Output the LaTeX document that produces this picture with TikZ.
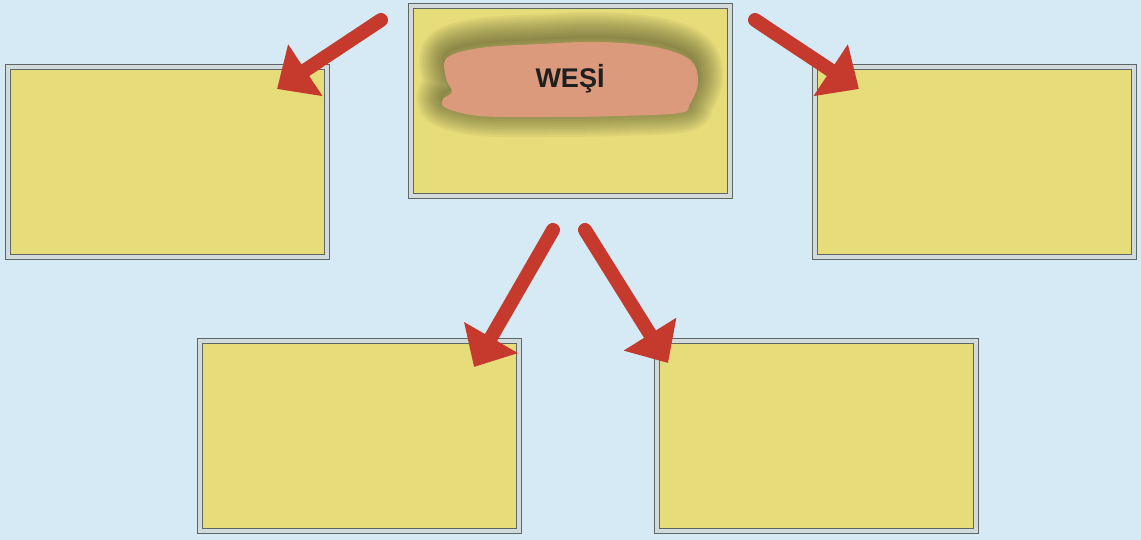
\documentclass[tikz,border=0pt]{standalone}
\usepackage{fontspec}
\setmainfont{Liberation Sans}
\usetikzlibrary{arrows.meta}
\definecolor{bgblue}{HTML}{D5EAF4}
\definecolor{boardyellow}{HTML}{E6DC7A}
\definecolor{framedark}{HTML}{5E6666}
\definecolor{framelight}{HTML}{D3DADB}
\definecolor{arrowred}{HTML}{C53A2D}
\definecolor{blobsalmon}{HTML}{DB9A7C}
\definecolor{glowcol}{HTML}{3A3A20}
\tikzset{
  board/.style={draw=framedark, line width=1pt, double=framelight, double distance=4pt,
    fill=boardyellow, minimum width=319pt, minimum height=190pt, inner sep=0pt},
  redarrow/.style={arrowred, line width=14pt, line cap=round, -{Triangle[width=60pt,length=34pt]}}
}
\def\blobpath{plot[smooth cycle, tension=0.6] coordinates {(447,58) (480,48) (540,44) (600,42) (655,47) (690,60) (698,82) (690,104) (680,113) (620,116) (550,117) (480,116) (446,108) (443,99) (452,92) (446,78)}}
\begin{document}
\begin{tikzpicture}[x=1pt,y=-1pt]
\useasboundingbox (0,0) rectangle (1141,540);
\fill[bgblue] (0,0) rectangle (1141,540);
% boards
\node[board] (top) at (570,101) {};
\node[board] (left) at (167.5,162) {};
\node[board] (right) at (974.5,162) {};
\node[board] (bl) at (359.5,435.5) {};
\node[board] (br) at (816.5,435.5) {};
% soft glow behind the blob
\begin{scope}[shift={(0,-5)}]
\foreach \w in {50,46,...,2}
  \draw[glowcol, opacity=0.05, line width=\w pt, line join=round] \blobpath;
\end{scope}
\fill[blobsalmon] \blobpath;
\node[font=\bfseries\fontsize{27}{30}\selectfont, text=black!88, inner sep=0pt] (label) at (570,79) {WEŞİ};
% arrow coordinates
\coordinate (a1s) at (381,20);
\coordinate (a1e) at (277,89);
\coordinate (a2s) at (755,20);
\coordinate (a2e) at (859,89);
\coordinate (a3s) at (553,230);
\coordinate (a3e) at (474,367);
\coordinate (a4s) at (585,230);
\coordinate (a4e) at (668,363);
\draw[redarrow] (a1s) -- (a1e);
\draw[redarrow] (a2s) -- (a2e);
\draw[redarrow] (a3s) -- (a3e);
\draw[redarrow] (a4s) -- (a4e);
\end{tikzpicture}
\end{document}
